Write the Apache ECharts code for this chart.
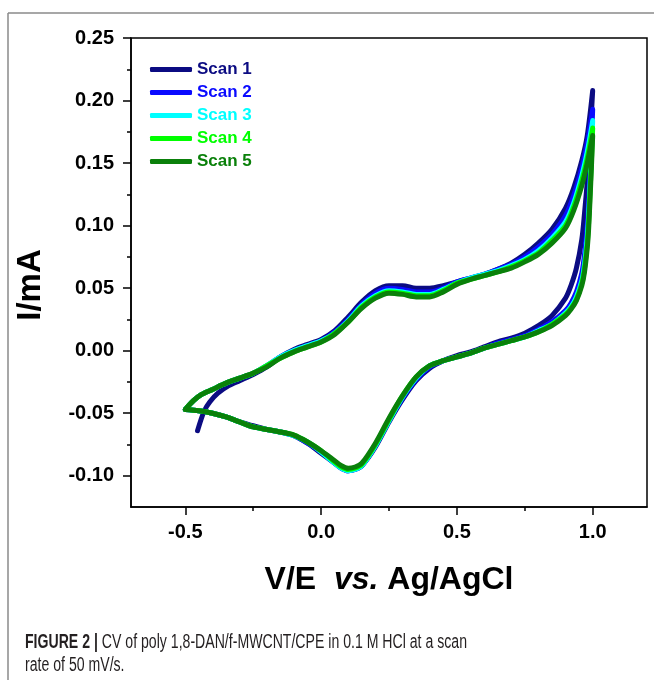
<!DOCTYPE html>
<html>
<head>
<meta charset="utf-8">
<script src="https://cdn.jsdelivr.net/npm/echarts@6/dist/echarts.min.js"></script>
<style>
html,body{margin:0;padding:0;background:#fff;}
#chart{width:654px;height:680px;}
</style>
</head>
<body>
<div id="chart"></div>
<script>
// ---------------- data ----------------
const scanNames = ['Scan 1', 'Scan 2', 'Scan 3', 'Scan 4', 'Scan 5'];

// potentials (V) of the anodic (forward) sweep, scans 2-5
const potFwd = [-0.5, -0.47, -0.44, -0.40, -0.35, -0.30, -0.25, -0.20, -0.15, -0.10, -0.05, 0.0, 0.05, 0.10, 0.15, 0.20, 0.25, 0.30, 0.35, 0.40, 0.45, 0.50, 0.55, 0.60, 0.65, 0.70, 0.75, 0.80, 0.85, 0.90, 0.93, 0.96, 0.98, 1.0];
// potentials of the anodic sweep of scan 1 (starts at -0.455 V)
const potFwdScan1 = [-0.455, -0.445, -0.43, -0.41, -0.38, -0.34, -0.30, -0.25, -0.20, -0.15, -0.10, -0.05, 0.0, 0.05, 0.10, 0.15, 0.20, 0.25, 0.30, 0.35, 0.40, 0.45, 0.50, 0.55, 0.60, 0.65, 0.70, 0.75, 0.80, 0.85, 0.90, 0.93, 0.96, 0.98, 1.0];
// potentials of the cathodic (reverse) sweep
const potRev = [1.0, 0.995, 0.99, 0.985, 0.98, 0.97, 0.96, 0.94, 0.92, 0.90, 0.85, 0.80, 0.75, 0.70, 0.65, 0.60, 0.55, 0.50, 0.45, 0.40, 0.35, 0.30, 0.25, 0.20, 0.15, 0.125, 0.10, 0.075, 0.05, 0.0, -0.05, -0.10, -0.15, -0.20, -0.25, -0.30, -0.35, -0.40, -0.45, -0.5];

// currents (mA)
const scan1Fwd = [-0.064, -0.057, -0.048, -0.041, -0.034, -0.028, -0.024, -0.019, -0.013, -0.005, 0.001, 0.005, 0.009, 0.016, 0.027, 0.039, 0.048, 0.052, 0.052, 0.050, 0.050, 0.052, 0.055, 0.058, 0.061, 0.065, 0.070, 0.077, 0.086, 0.097, 0.114, 0.130, 0.152, 0.172, 0.208];
const scan1Rev = [0.208, 0.188, 0.168, 0.150, 0.135, 0.110, 0.089, 0.066, 0.052, 0.042, 0.028, 0.020, 0.014, 0.010, 0.007, 0.003, -0.001, -0.004, -0.008, -0.014, -0.024, -0.039, -0.057, -0.077, -0.092, -0.095, -0.096, -0.094, -0.090, -0.082, -0.074, -0.068, -0.065, -0.063, -0.060, -0.057, -0.053, -0.050, -0.048, -0.047];

const scan2Fwd = [-0.047, -0.040, -0.035, -0.031, -0.026, -0.022, -0.018, -0.012, -0.005, 0.000, 0.004, 0.008, 0.015, 0.025, 0.037, 0.046, 0.050, 0.049, 0.047, 0.047, 0.050, 0.055, 0.058, 0.061, 0.065, 0.069, 0.075, 0.083, 0.093, 0.108, 0.124, 0.146, 0.166, 0.193];
const scan2Rev = [0.193, 0.165, 0.140, 0.117, 0.100, 0.077, 0.062, 0.047, 0.038, 0.032, 0.023, 0.017, 0.012, 0.009, 0.006, 0.002, -0.002, -0.005, -0.008, -0.013, -0.023, -0.038, -0.056, -0.076, -0.092, -0.095, -0.096, -0.094, -0.090, -0.081, -0.074, -0.068, -0.065, -0.063, -0.061, -0.057, -0.053, -0.050, -0.048, -0.047];

const scan3Fwd = [-0.047, -0.040, -0.035, -0.031, -0.026, -0.022, -0.018, -0.012, -0.005, 0.000, 0.004, 0.008, 0.014, 0.024, 0.036, 0.044, 0.048, 0.047, 0.045, 0.045, 0.049, 0.054, 0.058, 0.061, 0.064, 0.068, 0.073, 0.080, 0.090, 0.103, 0.118, 0.140, 0.159, 0.184];
const scan3Rev = [0.184, 0.156, 0.131, 0.108, 0.091, 0.069, 0.056, 0.043, 0.035, 0.030, 0.021, 0.016, 0.011, 0.008, 0.005, 0.002, -0.002, -0.005, -0.008, -0.012, -0.022, -0.037, -0.056, -0.076, -0.092, -0.095, -0.096, -0.094, -0.090, -0.081, -0.073, -0.068, -0.065, -0.063, -0.061, -0.057, -0.053, -0.050, -0.048, -0.047];

const scan4Fwd = [-0.047, -0.040, -0.035, -0.031, -0.026, -0.022, -0.018, -0.012, -0.006, -0.001, 0.003, 0.007, 0.014, 0.023, 0.035, 0.043, 0.047, 0.046, 0.044, 0.044, 0.048, 0.054, 0.057, 0.060, 0.063, 0.067, 0.072, 0.078, 0.088, 0.100, 0.115, 0.136, 0.154, 0.178];
const scan4Rev = [0.178, 0.150, 0.125, 0.102, 0.086, 0.066, 0.054, 0.041, 0.034, 0.029, 0.021, 0.015, 0.011, 0.008, 0.005, 0.002, -0.002, -0.005, -0.008, -0.012, -0.021, -0.036, -0.055, -0.075, -0.091, -0.094, -0.095, -0.093, -0.089, -0.080, -0.073, -0.0675, -0.065, -0.063, -0.061, -0.057, -0.053, -0.050, -0.048, -0.047];

const scan5Fwd = [-0.047, -0.040, -0.035, -0.031, -0.026, -0.022, -0.018, -0.013, -0.006, -0.001, 0.003, 0.007, 0.013, 0.023, 0.034, 0.042, 0.046, 0.045, 0.043, 0.043, 0.047, 0.053, 0.057, 0.060, 0.063, 0.066, 0.071, 0.077, 0.086, 0.098, 0.112, 0.132, 0.150, 0.172];
const scan5Rev = [0.172, 0.145, 0.120, 0.097, 0.082, 0.063, 0.052, 0.040, 0.033, 0.028, 0.020, 0.015, 0.011, 0.008, 0.005, 0.002, -0.002, -0.005, -0.008, -0.012, -0.021, -0.036, -0.054, -0.074, -0.090, -0.093, -0.094, -0.092, -0.088, -0.080, -0.073, -0.0675, -0.065, -0.063, -0.061, -0.057, -0.053, -0.050, -0.048, -0.047];

// tick labels
const xMajorTicks = [-0.5, 0.0, 0.5, 1.0];
const xMinorTicks = [-0.25, 0.25, 0.75];
const yMajorTicks = [-0.10, -0.05, 0.00, 0.05, 0.10, 0.15, 0.20, 0.25];
const yMinorTicks = [-0.075, -0.025, 0.025, 0.075, 0.125, 0.175, 0.225];

const captionLine1Bold = 'FIGURE 2 |';
const captionLine1 = ' CV of poly 1,8-DAN/f-MWCNT/CPE in 0.1 M HCl at a scan';
const captionLine2 = 'rate of 50 mV/s.';

// ---------------- build ----------------
function buildLoop(xf, yf, xr, yr) {
  const pts = xf.map((x, i) => [x, yf[i]]);
  xr.forEach((x, i) => { if (i > 0) pts.push([x, yr[i]]); });
  return pts;
}
const scanData = [
  buildLoop(potFwdScan1, scan1Fwd, potRev, scan1Rev),
  buildLoop(potFwd, scan2Fwd, potRev, scan2Rev),
  buildLoop(potFwd, scan3Fwd, potRev, scan3Rev),
  buildLoop(potFwd, scan4Fwd, potRev, scan4Rev),
  buildLoop(potFwd, scan5Fwd, potRev, scan5Rev)
];
const colors = ['#0b0b82', '#0a0aff', '#00ffff', '#00ff00', '#0a800a'];

const FONT = '"Liberation Sans", Arial, sans-serif';
const CAP_SIZE = 20;
// caption horizontal condensing (reference uses a condensed face)
const mctx = document.createElement('canvas').getContext('2d');
mctx.font = 'bold ' + CAP_SIZE + 'px "Liberation Sans"';
const wBold = mctx.measureText(captionLine1Bold).width;
mctx.font = CAP_SIZE + 'px "Liberation Sans"';
const wReg = mctx.measureText(captionLine1).width;
const capScale = 442 / (wBold + wReg);

const chart = echarts.init(document.getElementById('chart'), null, {renderer: 'canvas'});
const gridBox = {left: 131, top: 38, width: 516, height: 469};

const option = {
  animation: false,
  backgroundColor: '#fff',
  grid: Object.assign({show: true, borderColor: '#000', borderWidth: 1.5, containLabel: false}, gridBox),
  legend: {
    orient: 'vertical',
    left: 150,
    top: 61,
    padding: 0,
    itemWidth: 42,
    itemHeight: 5,
    itemGap: 6,
    icon: 'roundRect',
    textStyle: {fontFamily: FONT, fontWeight: 'bold', fontSize: 17},
    data: scanNames.map((n, i) => ({name: n, textStyle: {color: colors[i]}}))
  },
  xAxis: [
    {
      type: 'value', min: -0.7, max: 1.2, position: 'bottom',
      axisLine: {show: true, onZero: false, lineStyle: {color: '#000', width: 1.5}},
      axisTick: {show: true, length: 8, lineStyle: {color: '#000', width: 1.5}, customValues: xMajorTicks},
      axisLabel: {show: true, margin: 15, customValues: xMajorTicks, formatter: v => v.toFixed(1),
        color: '#000', fontFamily: FONT, fontWeight: 'bold', fontSize: 20},
      splitLine: {show: false},
      name: '{b|V/E}  {i|vs.} {b|Ag/AgCl}', nameLocation: 'middle', nameGap: 57,
      nameTextStyle: {
        rich: {
          b: {fontFamily: FONT, fontWeight: 'bold', fontSize: 32, color: '#000'},
          i: {fontFamily: FONT, fontWeight: 'bold', fontStyle: 'italic', fontSize: 32, color: '#000'}
        }, fontFamily: FONT, fontWeight: 'bold', fontSize: 32, color: '#000'
      }
    },
    {
      type: 'value', min: -0.7, max: 1.2, position: 'bottom', gridIndex: 0,
      axisLine: {show: false, onZero: false},
      axisTick: {show: true, length: 4, lineStyle: {color: '#000', width: 1.5}, customValues: xMinorTicks},
      axisLabel: {show: false},
      splitLine: {show: false}
    }
  ],
  yAxis: [
    {
      type: 'value', min: -0.125, max: 0.25, position: 'left',
      axisLine: {show: true, onZero: false, lineStyle: {color: '#000', width: 1.5}},
      axisTick: {show: true, length: 8, lineStyle: {color: '#000', width: 1.5}, customValues: yMajorTicks},
      axisLabel: {show: true, margin: 17, customValues: yMajorTicks, formatter: v => v.toFixed(2),
        color: '#000', fontFamily: FONT, fontWeight: 'bold', fontSize: 20},
      splitLine: {show: false}
    },
    {
      type: 'value', min: -0.125, max: 0.25, position: 'left', gridIndex: 0,
      axisLine: {show: false, onZero: false},
      axisTick: {show: true, length: 4, lineStyle: {color: '#000', width: 1.5}, customValues: yMinorTicks},
      axisLabel: {show: false},
      splitLine: {show: false}
    }
  ],
  series: scanNames.map((n, i) => ({
    name: n,
    type: 'line',
    data: scanData[i],
    showSymbol: false,
    symbol: 'none',
    smooth: 0.3,
    clip: true,
    color: colors[i],
    lineStyle: {width: 5, color: colors[i], cap: 'round', join: 'round'}
  })),
  graphic: [
    {type: 'line', shape: {x1: 8, y1: 13, x2: 654, y2: 13}, style: {stroke: '#8a8a8a', lineWidth: 1.5}, silent: true},
    {type: 'line', shape: {x1: 8, y1: 13, x2: 8, y2: 680}, style: {stroke: '#8a8a8a', lineWidth: 1.5}, silent: true},
    {type: 'text', x: 31, y: 285, rotation: Math.PI / 2,
      style: {text: 'I/mA', font: 'bold 33px ' + FONT, fill: '#000', align: 'center', verticalAlign: 'middle'}},
    {type: 'text', x: 25, y: 642, scaleX: capScale,
      style: {text: '{b|' + captionLine1Bold + '}' + captionLine1, fontFamily: FONT, fontSize: CAP_SIZE, fill: '#231f20',
        verticalAlign: 'middle', align: 'left',
        rich: {b: {fontFamily: FONT, fontWeight: 'bold', fontSize: CAP_SIZE, fill: '#231f20'}}}},
    {type: 'text', x: 25, y: 665, scaleX: capScale,
      style: {text: captionLine2, fontFamily: FONT, fontSize: CAP_SIZE, fill: '#231f20', verticalAlign: 'middle', align: 'left'}}
  ]
};
chart.setOption(option);
</script>
</body>
</html>
